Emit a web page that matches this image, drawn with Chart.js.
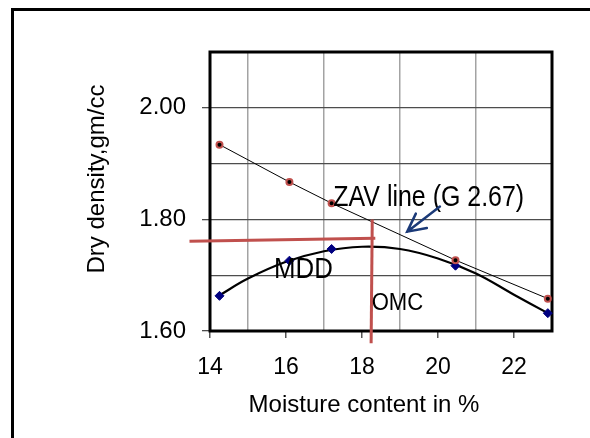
<!DOCTYPE html>
<html>
<head>
<meta charset="utf-8">
<script src="https://cdn.jsdelivr.net/npm/chart.js@4.4.1/dist/chart.umd.min.js"></script>
<style>
  html, body { margin: 0; padding: 0; background: #fff; }
  #wrap { position: relative; width: 590px; height: 438px; overflow: hidden; }
  #frame { position: absolute; left: 11px; top: 8px; width: 700px; height: 600px; border: 3px solid #000; }
  #chart { position: absolute; left: 0; top: 0; }
</style>
</head>
<body>
<div id="wrap">
  <div id="frame"></div>
  <canvas id="chart" width="590" height="438"></canvas>
</div>
<script>
// moisture content of each compaction test, %
const moisture = [14.25, 16.09, 17.2, 20.46, 22.89]
// dry density measured, gm/cc
const dryDensity = [1.663, 1.726, 1.747, 1.717, 1.632]
// zero air voids line (G 2.67)
const zavDensity = [1.934, 1.867, 1.829, 1.727, 1.658]

// fitted compaction curve
const curveX = [14.25, 15, 16, 17, 18, 19, 20, 21, 22, 22.89]
const curveY = [1.664, 1.694, 1.724, 1.743, 1.751, 1.747, 1.730, 1.703, 1.665, 1.632]

// red guide lines, MDD across and OMC down
const mddLineX = [13.46, 18.35]
const mddLineY = [1.761, 1.766]
const omcLineX = [18.27, 18.24]
const omcLineY = [1.80, 1.578]

const xTicks = [14, 16, 18, 20, 22]
const yTicks = [1.6, 1.8, 2.0]

const xTitle = "Moisture content in %"
const yTitle = "Dry density,gm/cc"

// text put on the plot, in data units (left end, baseline)
const notes = [
  { text: "ZAV line (G 2.67)", x: 17.245, y: 1.824 },
  { text: "MDD", x: 15.684, y: 1.6945 },
  { text: "OMC", x: 18.255, y: 1.6377 }
]
const noteSize = [29, 29, 24]
const noteStretch = [0.86, 0.89, 0.92]

// arrow pointing at the ZAV line
const arrowFrom = [20.05, 1.823]
const arrowTo = [19.19, 1.778]

const FONT = '"Liberation Sans", Arial, sans-serif'

const pts = (xs, ys) => xs.map((v, i) => ({ x: v, y: ys[i] }))
const isTick = (list, v) => list.some(t => Math.abs(t - v) < 1e-6)

const notesPlugin = {
  id: "notes",
  beforeDatasetsDraw(chart) {
    const { ctx, chartArea: a } = chart
    ctx.save()
    ctx.lineWidth = 3
    ctx.strokeStyle = "#000"
    ctx.strokeRect(a.left, a.top, a.right - a.left, a.bottom - a.top)
    ctx.restore()
  },
  afterDatasetsDraw(chart) {
    const { ctx, chartArea: a, scales: { x, y } } = chart
    ctx.save()
    ctx.fillStyle = "#000"
    ctx.textBaseline = "alphabetic"
    ctx.textAlign = "left"
    notes.forEach((n, i) => {
      ctx.save()
      ctx.translate(x.getPixelForValue(n.x), y.getPixelForValue(n.y))
      ctx.scale(noteStretch[i], 1)
      ctx.font = noteSize[i] + "px " + FONT
      ctx.fillText(n.text, 0, 0)
      ctx.restore()
    })

    // axis titles, a little off centre like the original
    ctx.textAlign = "center"
    ctx.font = "24px " + FONT
    ctx.fillText(xTitle, (a.left + a.right) / 2 - 17, a.bottom + 80.5)
    ctx.save()
    ctx.translate(a.left - 106.5, (a.top + a.bottom) / 2 - 12.5)
    ctx.rotate(-Math.PI / 2)
    ctx.fillText(yTitle, 0, 0)
    ctx.restore()

    // arrow
    const x1 = x.getPixelForValue(arrowFrom[0]), y1 = y.getPixelForValue(arrowFrom[1])
    const x2 = x.getPixelForValue(arrowTo[0]), y2 = y.getPixelForValue(arrowTo[1])
    const ang = Math.atan2(y1 - y2, x1 - x2)
    ctx.strokeStyle = "#1b3a78"
    ctx.lineWidth = 2.5
    ctx.lineCap = "round"
    ctx.beginPath()
    ctx.moveTo(x1, y1)
    ctx.lineTo(x2, y2)
    ctx.moveTo(x2 + 20 * Math.cos(ang - 0.47), y2 + 20 * Math.sin(ang - 0.47))
    ctx.lineTo(x2, y2)
    ctx.lineTo(x2 + 20 * Math.cos(ang + 0.47), y2 + 20 * Math.sin(ang + 0.47))
    ctx.stroke()
    ctx.restore()
  }
}

new Chart(document.getElementById("chart"), {
  type: "scatter",
  data: {
    datasets: [
      {
        label: "MDD",
        data: pts(mddLineX, mddLineY),
        showLine: true,
        borderColor: "#c0504d",
        borderWidth: 3,
        pointRadius: 0,
        clip: false,
        order: 0
      },
      {
        label: "OMC",
        data: pts(omcLineX, omcLineY),
        showLine: true,
        borderColor: "#c0504d",
        borderWidth: 3,
        pointRadius: 0,
        clip: false,
        order: 0
      },
      {
        label: "ZAV line",
        data: pts(moisture, zavDensity),
        showLine: true,
        borderColor: "#000",
        borderWidth: 1,
        pointStyle: "circle",
        pointRadius: 3,
        pointBackgroundColor: "#000",
        pointBorderColor: "#c0504d",
        pointBorderWidth: 2,
        clip: false,
        order: 1
      },
      {
        label: "Dry density",
        data: pts(moisture, dryDensity),
        showLine: false,
        pointStyle: "rectRot",
        pointRadius: 4.5,
        pointBackgroundColor: "#000080",
        pointBorderColor: "#000080",
        pointBorderWidth: 1,
        clip: false,
        order: 2
      },
      {
        label: "Compaction curve",
        data: pts(curveX, curveY),
        showLine: true,
        tension: 0.4,
        borderColor: "#000",
        borderWidth: 2.2,
        pointRadius: 0,
        clip: false,
        order: 3
      }
    ]
  },
  options: {
    responsive: false,
    animation: false,
    layout: { padding: { left: 0, top: 52, right: 38, bottom: 0 } },
    plugins: {
      legend: { display: false },
      tooltip: { enabled: false }
    },
    scales: {
      x: {
        type: "linear",
        position: "bottom",
        min: 14,
        max: 23,
        afterFit: s => { s.height = 107 },
        border: { display: false },
        grid: {
          color: c => (!isTick(xTicks, c.tick.value) && c.tick.value > 14 && c.tick.value < 23) ? "#a3a3a3" : "rgba(0,0,0,0)",
          lineWidth: 1.5,
          tickLength: 7,
          tickWidth: 1.5,
          tickColor: c => isTick(xTicks, c.tick.value) ? "#555" : "rgba(0,0,0,0)"
        },
        ticks: {
          stepSize: 1,
          autoSkip: false,
          maxRotation: 0,
          padding: 16,
          color: "#000",
          font: { family: FONT, size: 23 },
          callback: v => isTick(xTicks, v) ? String(v) : ""
        },
        title: { display: false, text: xTitle }
      },
      y: {
        min: 1.6,
        max: 2.1,
        afterFit: s => { s.width = 210 },
        border: { display: false },
        grid: {
          color: c => (c.tick.value > 1.61 && c.tick.value < 2.09) ? "#4d4d4d" : "rgba(0,0,0,0)",
          lineWidth: 1.3,
          tickLength: 8,
          tickWidth: 1.3,
          tickColor: c => isTick(yTicks, c.tick.value) ? "#4d4d4d" : "rgba(0,0,0,0)"
        },
        ticks: {
          stepSize: 0.1,
          autoSkip: false,
          padding: 16,
          color: "#000",
          font: { family: FONT, size: 24 },
          callback: v => isTick(yTicks, v) ? v.toFixed(2) : ""
        },
        title: { display: false, text: yTitle }
      }
    }
  },
  plugins: [notesPlugin]
})
</script>
</body>
</html>
